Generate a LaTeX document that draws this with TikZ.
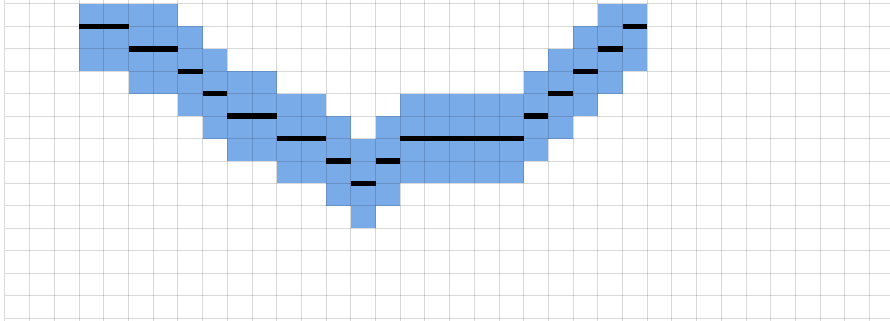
\documentclass[tikz,border=0pt]{standalone}
\definecolor{bandblue}{RGB}{122,171,233}
\tikzstyle{band}=[fill=bandblue]
\tikzstyle{gridline}=[black, opacity=0.15, line width=1pt]
\tikzstyle{seg}=[black, line width=5.5pt]

\begin{document}
\begin{tikzpicture}[x=24.7pt, y=-22.43pt]
	\useasboundingbox (-0.2024,-0.178) rectangle (35.83,14.13);

	% Blue band: two rows above and two rows below each segment
	\foreach \c/\l in {3/1,4/1,5/2,6/2,7/3,8/4,9/5,10/5,11/6,12/6,13/7,14/8,15/7,
	                   16/6,17/6,18/6,19/6,20/6,21/5,22/4,23/3,24/2,25/1}{
		\fill[band] (\c,{max(\l-2,0)}) rectangle (\c+1,\l+2);
	}

	% Grid
	\foreach \x in {0,...,35}{ \draw[gridline] (\x,-0.178) -- (\x,14.13); }
	\foreach \y in {0,...,14}{ \draw[gridline] (0,\y) -- (35.83,\y); }

	% Segments on the grid lines
	\foreach \c/\l in {3/1,4/1,5/2,6/2,7/3,8/4,9/5,10/5,11/6,12/6,13/7,14/8,15/7,
	                   16/6,17/6,18/6,19/6,20/6,21/5,22/4,23/3,24/2,25/1}{
		\draw[seg] (\c,\l) -- (\c+1,\l);
	}
\end{tikzpicture}
\end{document}
